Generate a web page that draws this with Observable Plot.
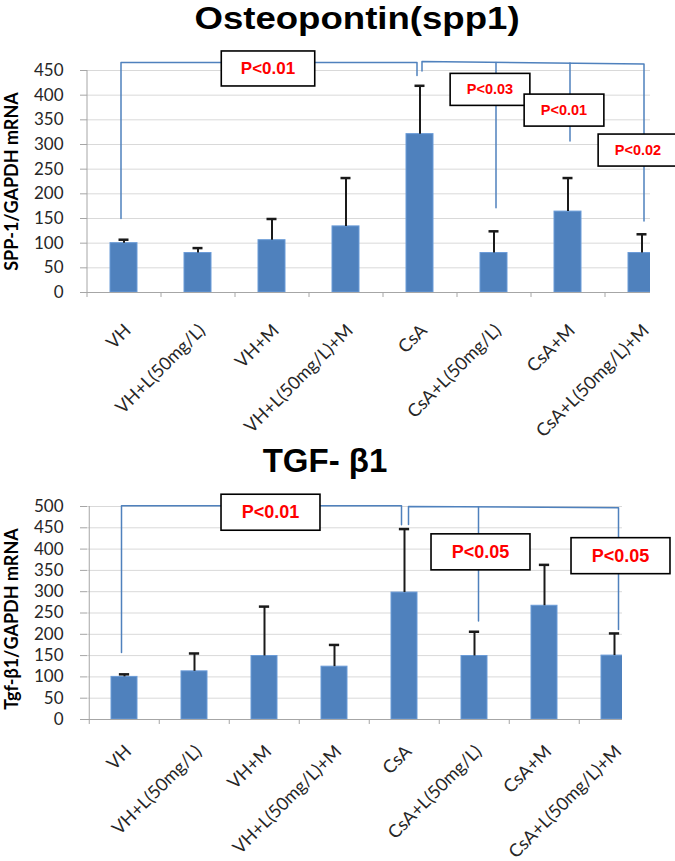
<!DOCTYPE html>
<html><head><meta charset="utf-8">
<script src="https://cdn.jsdelivr.net/npm/d3@7"></script>
<script src="https://cdn.jsdelivr.net/npm/@observablehq/plot@0.6"></script>
<style>
body{margin:0;background:#fff;width:675px;height:861px;overflow:hidden;position:relative;}
.title{position:absolute;font-family:"Liberation Sans",Arial,sans-serif;font-weight:bold;line-height:normal;white-space:nowrap;color:#000;}
.chart{position:absolute;left:0;}
</style></head><body>
<div class="title" style="left:357px;top:1px;font-size:31px;transform:translateX(-50%) scaleX(1.18)">Osteopontin(spp1)</div>
<div id="c1" class="chart" style="top:40px"></div>
<div class="title" style="left:325px;top:442px;font-size:33px;transform:translateX(-50%)">TGF- β1</div>
<div id="c2" class="chart" style="top:480px"></div>
<script>
const categories = ["VH","VH+L(50mg/L)","VH+M","VH+L(50mg/L)+M","CsA","CsA+L(50mg/L)","CsA+M","CsA+L(50mg/L)+M"];

const sppValues = [100, 80, 106, 134, 321, 80, 164, 80];
const sppErrors = [7, 10, 43, 98, 98, 44, 68, 38];
const sppTicks = [0, 50, 100, 150, 200, 250, 300, 350, 400, 450];
const sppLabel = "SPP-1/GAPDH mRNA";
const sppBracketLeft = [
  {x: "VH", y: 150}, {x: "VH", y: 466}, {x: "CsA", y: 466}, {x: "CsA", y: 440}
];
const sppBracketRight = [
  {g: "main", x: "CsA", y: 449}, {g: "main", x: "CsA", y: 468},
  {g: "main", x: "CsA+L(50mg/L)+M", y: 463}, {g: "main", x: "CsA+L(50mg/L)+M", y: 145},
  {g: "d1", x: "CsA+L(50mg/L)", y: 466}, {g: "d1", x: "CsA+L(50mg/L)", y: 172},
  {g: "d2", x: "CsA+M", y: 465}, {g: "d2", x: "CsA+M", y: 307}
];
const sppP = [
  {x: "VH+M", y: 454, label: "P<0.01"},
  {x: "CsA+L(50mg/L)", y: 411, label: "P<0.03"},
  {x: "CsA+M", y: 369, label: "P<0.01"},
  {x: "CsA+L(50mg/L)+M", y: 288, label: "P<0.02"}
];

const tgfValues = [100, 113, 149, 124, 298, 149, 267, 150];
const tgfErrors = [6, 42, 116, 51, 149, 57, 96, 52];
const tgfTicks = [0, 50, 100, 150, 200, 250, 300, 350, 400, 450, 500];
const tgfLabel = "Tgf-β1/GAPDH mRNA";
const tgfBracketLeft = [
  {x: "VH", y: 157}, {x: "VH", y: 502}, {x: "CsA", y: 502}, {x: "CsA", y: 457}
];
const tgfBracketRight = [
  {g: "main", x: "CsA", y: 458}, {g: "main", x: "CsA", y: 500},
  {g: "main", x: "CsA+L(50mg/L)+M", y: 497}, {g: "main", x: "CsA+L(50mg/L)+M", y: 211},
  {g: "d1", x: "CsA+L(50mg/L)", y: 499}, {g: "d1", x: "CsA+L(50mg/L)", y: 231}
];
const tgfP = [
  {x: "VH+M", y: 486, label: "P<0.01"},
  {x: "CsA+L(50mg/L)", y: 393, label: "P<0.05"},
  {x: "CsA+L(50mg/L)+M", y: 384, label: "P<0.05"}
];

const NS = "http://www.w3.org/2000/svg";
const lineColor = "#4f81bd";

function drawChart(cfg) {
  const rows = categories.map((c, i) => ({cat: c, v: cfg.values[i], top: cfg.values[i] + cfg.errors[i]}));
  const step = (cfg.xRange[1] - cfg.xRange[0]) / categories.length;
  const bw = step * (1 - 0.635);
  const capInset = (bw - 10) / 2;
  const plot = Plot.plot({
    width: 675, height: cfg.height,
    marginLeft: 87, marginRight: cfg.marginRight, marginTop: cfg.marginTop, marginBottom: cfg.marginBottom,
    style: {fontFamily: "Lato, sans-serif", background: "transparent", overflow: "visible", color: "#262626"},
    x: {type: "band", domain: categories, range: cfg.xRange, paddingInner: 0.635, paddingOuter: 0.3175, label: null},
    y: {domain: [0, cfg.yMax], label: null},
    marks: [
      Plot.gridY({ticks: cfg.yTicks, stroke: "#d9d9d9", strokeOpacity: 1}),
      Plot.barY(rows, {x: "cat", y: "v", fill: "#4f81bd", stroke: "#6a9bd8", strokeWidth: 1, clip: true}),
      Plot.ruleY([0], {stroke: "#a6a6a6"}),
      Plot.ruleX(categories, {x: d => d, y1: 0, y2: 0, insetBottom: -5, dx: -step / 2, stroke: "#a6a6a6"}),
      Plot.ruleX([categories[0]], {x: d => d, dx: -step / 2, stroke: "#a6a6a6"}),
      Plot.ruleX(rows, {x: "cat", y1: "v", y2: "top", stroke: "#1a1a1a", strokeWidth: 2}),
      Plot.tickY(rows, {x: "cat", y: "top", insetLeft: capInset, insetRight: capInset, stroke: "#1a1a1a", strokeWidth: 2.5}),
      Plot.line(cfg.bracketLeft, {x: "x", y: "y", dx: cfg.ldx, stroke: lineColor, strokeWidth: 1.5, curve: "linear"}),
      Plot.line(cfg.bracketRight, {x: "x", y: "y", z: "g", dx: cfg.rdx, stroke: lineColor, strokeWidth: 1.5, curve: "linear"}),
      Plot.text(cfg.pvals, {x: "x", y: "y", text: "label", dx: cfg.pdx, fill: "#ff0000", fontWeight: "bold",
        fontSize: (d, i) => i === 0 ? cfg.bigSize : cfg.smallSize,
        fontFamily: "Liberation Sans, Arial, sans-serif"}),
      Plot.axisY({ticks: cfg.yTicks, tickSize: 7, tickPadding: 17, fontSize: 17, stroke: "#a6a6a6", fill: "#262626", label: null}),
      Plot.axisX({tickRotate: -45, tickSize: 0, tickPadding: cfg.xPad, dx: 4, fontSize: 18, fill: "#262626", label: null}),
      Plot.text([cfg.yLabel], {text: d => d, frameAnchor: "left", textAnchor: "middle", rotate: -90, dx: -75, dy: cfg.labelDy,
        fontWeight: "bold", fontSize: 18, fill: "#000"})
    ]
  });
  document.getElementById(cfg.el).appendChild(plot);
  const labels = new Set(cfg.pvals.map(d => d.label));
  Array.from(plot.querySelectorAll("text"))
    .filter(t => labels.has(t.textContent) && t.closest("g") && t.closest("g").getAttribute("fill") !== null)
    .forEach(t => {
      const b = t.getBBox();
      const fs = parseFloat(t.getAttribute("font-size")) || cfg.smallSize;
      const px = fs * 1.15, py = 8;
      const r = document.createElementNS(NS, "rect");
      r.setAttribute("x", b.x - px);
      r.setAttribute("y", b.y - py);
      r.setAttribute("width", b.width + 2 * px);
      r.setAttribute("height", b.height + 2 * py);
      r.setAttribute("fill", "#fff");
      r.setAttribute("stroke", "#000");
      r.setAttribute("stroke-width", "1.6");
      if (t.getAttribute("transform")) r.setAttribute("transform", t.getAttribute("transform"));
      t.parentNode.insertBefore(r, t);
    });
}

drawChart({
  el: "c1", values: sppValues, errors: sppErrors, yTicks: sppTicks, yMax: 450, yLabel: sppLabel,
  height: 410, marginTop: 30, marginBottom: 158, marginRight: 25, xRange: [87, 679],
  bracketLeft: sppBracketLeft, bracketRight: sppBracketRight, ldx: -3, rdx: 2,
  pvals: sppP, pdx: -4, bigSize: 17, smallSize: 14.5, labelDy: 0, xPad: 35
});
drawChart({
  el: "c2", values: tgfValues, errors: tgfErrors, yTicks: tgfTicks, yMax: 500, yLabel: tgfLabel,
  height: 381, marginTop: 26, marginBottom: 142, marginRight: 53, xRange: [87, 651],
  bracketLeft: tgfBracketLeft, bracketRight: tgfBracketRight, ldx: -3, rdx: 4,
  pvals: tgfP, pdx: 6, bigSize: 18, smallSize: 18, labelDy: 6, xPad: 29
});
</script>
</body></html>
